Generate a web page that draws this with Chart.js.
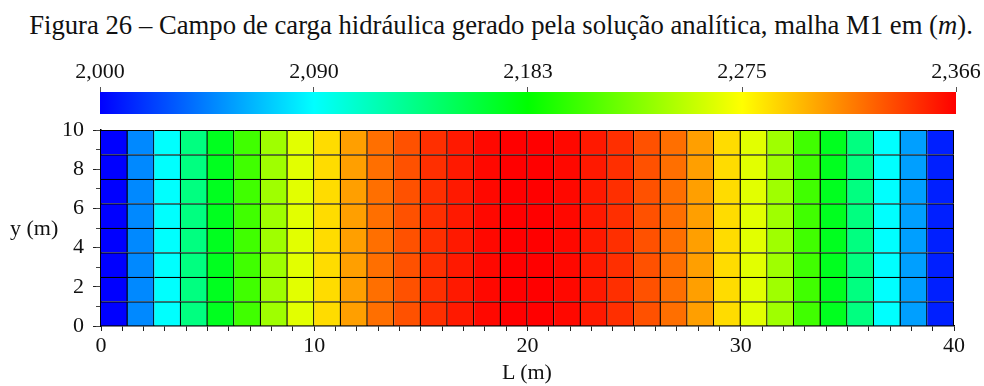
<!DOCTYPE html>
<html>
<head>
<meta charset="utf-8">
<script src="https://cdn.jsdelivr.net/npm/chart.js@4"></script>
<style>
  html, body { margin: 0; padding: 0; background: #fff; }
  #wrap { position: relative; width: 984px; height: 386px; font-family: "Liberation Serif", "Times New Roman", Times, serif; color: #111; }
  #wrap canvas { position: absolute; left: 0; top: 0; }
  .lbl { position: absolute; white-space: nowrap; line-height: 1; }
</style>
</head>
<body>
<div id="wrap">
  <div class="lbl" style="left:0; width:1002px; top:12px; text-align:center; font-size:26.7px;">Figura 26 – Campo de carga hidráulica gerado pela solução analítica, malha M1 em (<i>m</i>).</div>
  <canvas id="colorbar" width="984" height="114"></canvas>
  <canvas id="field" width="984" height="386"></canvas>
  <div class="lbl" style="left:10px; top:217px; font-size:22px;">y (m)</div>
  <div class="lbl" style="left:427px; width:200px; top:361px; text-align:center; font-size:22px;">L (m)</div>
</div>
<script>
// hydraulic head at the centre of each mesh column (m), from x = 0 to x = 40
const headByColumn = [2.000, 2.049, 2.092, 2.137, 2.172, 2.206, 2.240, 2.264,
                      2.287, 2.309, 2.326, 2.337, 2.349, 2.357, 2.363, 2.366,
                      2.366, 2.363, 2.357, 2.349, 2.337, 2.326, 2.309, 2.287,
                      2.264, 2.240, 2.206, 2.172, 2.137, 2.092, 2.057, 2.011];
// horizontal cell boundaries of mesh M1 (m)
const rowEdges = [0, 1.25, 2.5, 3.75, 5, 6.25, 7.5, 8.75, 10];
const headMin = 2.000;
const headMax = 2.366;
const colorbarTicks = [2.000, 2.0915, 2.183, 2.2745, 2.366];
const colorbarLabels = ['2,000', '2,090', '2,183', '2,275', '2,366'];
const xMajor = [0, 10, 20, 30, 40];

const jetStops = [[0, 0, 255], [0, 255, 255], [0, 255, 0], [255, 255, 0], [255, 0, 0]];
const axisFont = { family: '"Liberation Serif", "Times New Roman", Times, serif', size: 22 };

function jet(h) {
  const t = Math.min(1, Math.max(0, (h - headMin) / (headMax - headMin)));
  const s = t * 4;
  const i = Math.min(3, Math.floor(s));
  const f = s - i;
  const c = jetStops[i].map((v, k) => Math.round(v + (jetStops[i + 1][k] - v) * f));
  return 'rgb(' + c.join(',') + ')';
}

// evenly spaced tick values from min to max
function tickRange(min, max, step) {
  const out = [];
  const n = Math.round((max - min) / step);
  for (let i = 0; i <= n; i++) out.push({ value: +(min + i * step).toFixed(6) });
  return out;
}

// colour bar
new Chart(document.getElementById('colorbar'), {
  type: 'bar',
  data: {
    labels: [''],
    datasets: [{
      data: [[headMin, headMax]],
      backgroundColor: (ctx) => {
        const area = ctx.chart.chartArea;
        if (!area) return 'rgb(0,0,255)';
        const g = ctx.chart.ctx.createLinearGradient(area.left, 0, area.right, 0);
        jetStops.forEach((c, i) => g.addColorStop(i / 4, 'rgb(' + c.join(',') + ')'));
        return g;
      },
      borderWidth: 0,
      barPercentage: 1,
      categoryPercentage: 1
    }]
  },
  options: {
    indexAxis: 'y',
    responsive: false,
    animation: false,
    layout: { padding: { left: 100, right: 28, top: 0, bottom: 0 } },
    plugins: { legend: { display: false }, tooltip: { enabled: false } },
    scales: {
      x: {
        type: 'linear',
        position: 'top',
        offset: false,
        min: headMin,
        max: headMax,
        afterFit: (s) => { s.height = 92; },
        afterBuildTicks: (s) => { s.ticks = colorbarTicks.map(v => ({ value: v })); },
        ticks: {
          autoSkip: false,
          maxRotation: 0,
          padding: 2,
          color: '#111',
          font: axisFont,
          callback: (v, i) => colorbarLabels[i]
        },
        grid: { drawOnChartArea: false, offset: false, tickLength: 5, color: '#555' },
        border: { display: false }
      },
      y: { display: false }
    }
  }
});

// head field on the mesh, one dataset per row of cells
const rowSets = rowEdges.slice(0, -1).map((y0, r) => ({
  data: headByColumn.map(() => [y0, rowEdges[r + 1]]),
  backgroundColor: headByColumn.map(jet),
  borderColor: '#000',
  borderWidth: { top: 1.4, right: 1.4, bottom: 0, left: 0 },
  borderSkipped: false,
  grouped: false,
  barPercentage: 1,
  categoryPercentage: 1
}));

new Chart(document.getElementById('field'), {
  type: 'bar',
  data: {
    labels: headByColumn.map((_, i) => i),
    datasets: rowSets
  },
  options: {
    responsive: false,
    animation: false,
    layout: { padding: { left: 0, right: 30, top: 130, bottom: 0 } },
    plugins: { legend: { display: false }, tooltip: { enabled: false } },
    scales: {
      x: { type: 'category', display: false, offset: true },
      xl: {
        type: 'linear',
        position: 'bottom',
        offset: false,
        min: 0,
        max: 40,
        afterFit: (s) => { s.height = 60; },
        afterBuildTicks: (s) => { s.ticks = tickRange(0, 40, 1); },
        ticks: {
          autoSkip: false,
          maxRotation: 0,
          padding: 2,
          color: '#111',
          font: axisFont,
          callback: (v) => xMajor.includes(v) ? String(v) : ''
        },
        grid: { drawOnChartArea: false, offset: false, tickLength: 5, color: '#222' },
        border: { display: true, color: '#000', width: 1.5 }
      },
      y: {
        type: 'linear',
        position: 'left',
        weight: 1,
        min: 0,
        max: 10,
        afterFit: (s) => { s.width = 101; },
        afterBuildTicks: (s) => { s.ticks = tickRange(0, 10, 2); },
        ticks: { padding: 9, color: '#111', font: axisFont },
        grid: { drawOnChartArea: false, tickLength: 8, color: '#222' },
        border: { display: true, color: '#000', width: 1.5 }
      },
      yMinor: {
        type: 'linear',
        position: 'left',
        weight: 0,
        min: 0,
        max: 10,
        afterFit: (s) => { s.width = 0; },
        afterBuildTicks: (s) => { s.ticks = tickRange(0, 10, 0.2); },
        ticks: { callback: () => '' },
        grid: { drawOnChartArea: false, tickLength: 5, color: '#444' },
        border: { display: false }
      }
    }
  }
});
</script>
</body>
</html>
